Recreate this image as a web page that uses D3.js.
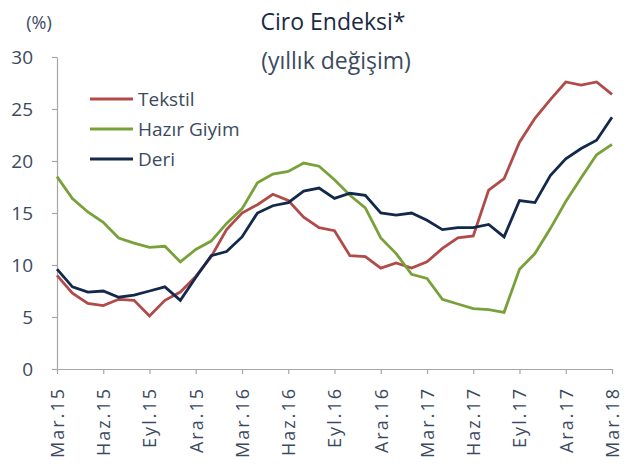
<!DOCTYPE html>
<html>
<head>
<meta charset="utf-8">
<script src="https://cdn.jsdelivr.net/npm/d3@7"></script>
<style>
  body { margin: 0; background: #fff; }
  svg text { font-family: "Open Sans", sans-serif; }
</style>
</head>
<body>
<div id="container"></div>
<script>
/* DATA */
const months = [
  "Mar.15","Nis.15","May.15","Haz.15","Tem.15","Ağu.15","Eyl.15","Eki.15","Kas.15","Ara.15","Oca.16","Şub.16",
  "Mar.16","Nis.16","May.16","Haz.16","Tem.16","Ağu.16","Eyl.16","Eki.16","Kas.16","Ara.16","Oca.17","Şub.17",
  "Mar.17","Nis.17","May.17","Haz.17","Tem.17","Ağu.17","Eyl.17","Eki.17","Kas.17","Ara.17","Oca.18","Şub.18",
  "Mar.18"
];

const tekstil = [
  9.0, 7.3, 6.3, 6.1, 6.7, 6.6, 5.1, 6.6, 7.4, 8.9, 10.8, 13.4,
  15.0, 15.8, 16.8, 16.2, 14.6, 13.6, 13.3, 10.9, 10.8, 9.7, 10.2, 9.7,
  10.3, 11.6, 12.6, 12.8, 17.2, 18.3, 21.8, 24.1, 25.9, 27.6, 27.3, 27.6,
  26.4
];

const hazirGiyim = [
  18.5, 16.4, 15.1, 14.1, 12.6, 12.1, 11.7, 11.8, 10.3, 11.5, 12.3, 14.0,
  15.4, 17.9, 18.75, 19.0, 19.8, 19.5, 18.2, 16.7, 15.5, 12.6, 11.1, 9.1,
  8.7, 6.7, 6.25, 5.8, 5.7, 5.45, 9.6, 11.1, 13.5, 16.1, 18.4, 20.6,
  21.6
];

const deri = [
  9.6, 7.9, 7.4, 7.5, 6.9, 7.1, 7.5, 7.9, 6.6, 8.8, 10.9, 11.3,
  12.7, 15.0, 15.7, 16.0, 17.1, 17.4, 16.4, 16.9, 16.7, 15.0, 14.8, 15.0,
  14.3, 13.4, 13.6, 13.6, 13.9, 12.7, 16.2, 16.0, 18.6, 20.2, 21.2, 22.0,
  24.2
];

const seriesNames = ["Tekstil", "Hazır Giyim", "Deri"];
const yTicks = [0, 5, 10, 15, 20, 25, 30];

/* CONSTANTS */
const width = 635,
  height = 467,
  margin = { top: 57, bottom: 98, left: 57, right: 23 };

const colors = ["#b04b49", "#78a13a", "#13294b"];
const textColor = "#3b4a5e";
const axisColor = "#a6a6a6";

const series = [tekstil, hazirGiyim, deri].map((values, i) => ({
  name: seriesNames[i],
  color: colors[i],
  values: values
}));

// APPEND SVG
const svg = d3.select("#container")
  .append("svg")
  .attr("width", width)
  .attr("height", height)

// SCALES
const x = d3.scalePoint()
  .domain(months)
  .range([margin.left, width - margin.right])

const y = d3.scaleLinear()
  .domain([0, 30])
  .range([height - margin.bottom, margin.top])

// AXES
const xAxis = svg.append("g")
  .attr("transform", `translate(0, ${height - margin.bottom})`)
  .call(d3.axisBottom(x)
    .tickValues(months.filter((d, i) => i % 3 === 0))
    .tickSize(5)
    .tickSizeOuter(0))

xAxis.selectAll("text")
  .attr("transform", "rotate(-90)")
  .attr("text-anchor", "end")
  .attr("x", -18)
  .attr("y", 0)
  .attr("dy", "0.36em")
  .attr("font-size", 18)
  .attr("letter-spacing", 2)
  .attr("fill", textColor)

const yAxis = svg.append("g")
  .attr("transform", `translate(${margin.left}, 0)`)
  .call(d3.axisLeft(y)
    .tickValues(yTicks)
    .tickSize(5)
    .tickSizeOuter(0)
    .tickPadding(19))

yAxis.selectAll("text")
  .attr("font-size", 19)
  .attr("fill", textColor)

svg.selectAll(".domain, .tick line")
  .attr("stroke", axisColor)
  .attr("stroke-width", 1.2)

// LINES
const lineGen = d3.line()
  .x((d, i) => x(months[i]))
  .y(d => y(d))

svg.selectAll("path.series")
  .data(series)
  .join("path")
  .attr("class", "series")
  .attr("d", d => lineGen(d.values))
  .attr("fill", "none")
  .attr("stroke", d => d.color)
  .attr("stroke-width", 2.8)

// LEGEND
const legend = svg.selectAll("g.legend")
  .data(series)
  .join("g")
  .attr("class", "legend")
  .attr("transform", (d, i) => `translate(90, ${99 + i * 30})`)

legend.append("line")
  .attr("x1", 0)
  .attr("x2", 43)
  .attr("stroke", d => d.color)
  .attr("stroke-width", 2.8)

legend.append("text")
  .attr("x", 48)
  .attr("dy", "0.35em")
  .attr("font-size", 19)
  .attr("fill", textColor)
  .text(d => d.name)

// TITLES
svg.append("text")
  .attr("x", 333)
  .attr("y", 30)
  .attr("text-anchor", "middle")
  .attr("font-size", 23)
  .attr("fill", "#1b2a44")
  .text("Ciro Endeksi*")

svg.append("text")
  .attr("x", 336)
  .attr("y", 69)
  .attr("text-anchor", "middle")
  .attr("font-size", 23)
  .attr("fill", textColor)
  .text("(yıllık değişim)")

svg.append("text")
  .attr("x", 39)
  .attr("y", 29)
  .attr("text-anchor", "middle")
  .attr("font-size", 18)
  .attr("fill", textColor)
  .text("(%)")
</script>
</body>
</html>
